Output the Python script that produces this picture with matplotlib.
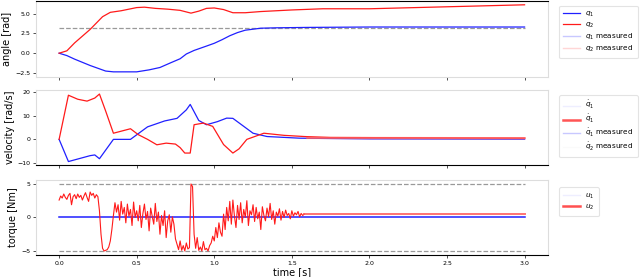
import numpy as np
import matplotlib
matplotlib.use("Agg")
import matplotlib.pyplot as plt

# ---- angle data ----
t_q1 = [0, 0.05, 0.1, 0.2, 0.3, 0.35, 0.5, 0.58, 0.65, 0.72, 0.78, 0.82, 0.87, 0.95, 1.0, 1.05, 1.1, 1.15, 1.2, 1.3, 1.4, 1.6, 2.0, 2.5, 3.0]
q1 = [0, -0.3, -0.75, -1.55, -2.25, -2.35, -2.35, -2.1, -1.8, -1.2, -0.7, -0.1, 0.35, 0.9, 1.25, 1.7, 2.2, 2.6, 2.9, 3.15, 3.2, 3.25, 3.3, 3.3, 3.3]
t_q2 = [0, 0.05, 0.1, 0.2, 0.28, 0.33, 0.4, 0.5, 0.55, 0.62, 0.7, 0.78, 0.85, 0.9, 0.95, 1.0, 1.06, 1.12, 1.2, 1.3, 1.5, 1.7, 2.0, 2.5, 3.0]
q2 = [0, 0.3, 1.3, 3.0, 4.6, 5.15, 5.35, 5.75, 5.8, 5.65, 5.55, 5.4, 5.05, 5.3, 5.65, 5.7, 5.5, 5.1, 5.1, 5.25, 5.45, 5.6, 5.6, 5.85, 6.1]
q_target = 3.14159

# ---- velocity data ----
t_v1 = [0, 0.06, 0.2, 0.23, 0.26, 0.35, 0.46, 0.57, 0.68, 0.76, 0.82, 0.845, 0.9, 0.95, 1.02, 1.08, 1.12, 1.25, 1.34, 1.55, 2.0, 3.0]
v1 = [0, -9.4, -6.9, -6.6, -8.2, 0, 0, 5.3, 7.8, 8.9, 12.5, 14.8, 8.0, 6.2, 7.5, 9.0, 8.9, 2.6, 1.2, 0.5, 0.2, 0.1]
t_v2 = [0, 0.06, 0.12, 0.18, 0.23, 0.26, 0.3, 0.35, 0.46, 0.51, 0.57, 0.63, 0.69, 0.75, 0.78, 0.81, 0.845, 0.87, 0.93, 0.99, 1.06, 1.12, 1.16, 1.21, 1.32, 1.45, 1.58, 1.75, 3.0]
v2 = [0, 18.7, 17.0, 16.2, 17.5, 19.2, 12.0, 2.6, 4.5, 2.0, 0.0, -2.3, -1.6, -2.0, -3.5, -5.8, -5.8, 6.2, 6.9, 5.5, -2.2, -5.8, -4.0, 0.0, 2.6, 1.7, 1.2, 0.8, 0.5]

# ---- torque data (dt = 0.01 s) ----
u2 = [2.6, 3.2, 2.9, 3.5, 3.0, 2.7, 3.3, 3.6, 1.9, 3.1, 3.4, 2.8, 3.5, 3.0, 3.3, 2.6, 3.2, 3.7, 3.0, 2.4, 3.8, 3.3, 3.6, 2.9, 3.4, 3.1,
      1.0, -2.5, -4.6, -5.0, -4.9, -4.8, -4.4, -3.5, -1.8, 0.3, 2.2,
      0.8, 1.9, -0.4, 2.4, 0.5, 1.5, -0.8, 2.0, 0.2, 1.2, -1.2, 2.3, 0.0, 1.0, -0.5, 1.8, -1.5, 0.6, 2.0, -0.3, 0.9, -2.0, 1.4, 0.2, -1.0, 2.1, -0.6, 0.8, -2.5, 0.3, -1.2, 1.0, -3.0, -0.5, 0.4, -2.2, 0.1, -1.0,
      -3.2, -4.0, -4.8, -3.5, -4.9, -4.2, -5.0, -3.8, -4.7, -4.5,
      5.0, 4.6,
      -2.5, -4.6, -3.0, -4.9, -4.4, -5.0, -3.6, -4.8, -4.6, -5.0, -4.2, -3.8,
      -2.8, -3.5, -1.5, -3.0, -0.8, -2.2, -2.8, 0.5, -1.8, 1.5, -0.5, 2.4,
      -1.0, 2.6, 0.2, -1.5, 1.8, -0.3, 2.2, -0.8, 1.2, 0.0, 2.5, -1.2, 1.0, 0.4, 1.9, -0.6, 1.5, -0.2, 0.8, -1.8,
      1.6, 0.3, -0.5, 1.4, 0.1, 2.1, -0.3, 1.0, -1.0, 0.8, 0.2, 1.3, -0.4, 0.9, 0.0, 1.1, 0.3, 0.6, -0.2, 1.0, 0.2, 0.7, 0.4, 0.9, 0.1, 0.6, 0.3, 0.5]
t_u = np.round(np.arange(len(u2)) * 0.01, 2)
t_u_tail = [1.58, 3.0]
u2_tail = [0.5, 0.5]
u_lim = 5.0

BLUE = '#2020ff'
RED = '#ff1a1a'
GRID = '#dddddd'

fig = plt.figure(figsize=(6.4, 2.77), dpi=100)
ax1 = fig.add_axes([0.056, 0.722, 0.80, 0.275])
ax2 = fig.add_axes([0.056, 0.404, 0.80, 0.271])
ax3 = fig.add_axes([0.056, 0.0794, 0.80, 0.271])

for ax in (ax1, ax2, ax3):
    for s in ax.spines.values():
        s.set_color(GRID)
        s.set_linewidth(0.8)
    ax.tick_params(labelsize=4.5, length=2, width=0.6, pad=2, color='#333333')
    ax.set_xlim(-0.15, 3.15)
    ax.set_xticks([0, 0.5, 1.0, 1.5, 2.0, 2.5, 3.0])
ax1.spines['top'].set_color('black')
ax2.spines['bottom'].set_color('black')
ax3.spines['bottom'].set_color('black')
ax1.tick_params(labelbottom=False)
ax2.tick_params(labelbottom=False)

# angle
ax1.plot([0, 3.0], [q_target, q_target], '--', color='#999999', lw=0.9)
ax1.plot(t_q1, q1, color=BLUE, lw=0.9, label='$q_1$')
ax1.plot(t_q2, q2, color=RED, lw=0.9, label='$q_2$')
ax1.plot([], [], color='#c8c8ff', lw=1.0, label='$q_1$ measured')
ax1.plot([], [], color='#ffd6d6', lw=1.0, label='$q_2$ measured')
ax1.set_ylim(-3.0, 6.6)
ax1.set_yticks([-2.5, 0.0, 2.5, 5.0])
ax1.set_yticklabels(['\u22122.5', '0.0', '2.5', '5.0'])
ax1.set_ylabel('angle [rad]', fontsize=7, labelpad=2)

# velocity
ax2.plot(t_v1, v1, color=BLUE, lw=0.9)
ax2.plot(t_v2, v2, color=RED, lw=0.9)
ax2.plot([1.6, 3.0], [0.6, 0.5], color='#ff6060', lw=1.6, alpha=0.8)
ax2.plot([], [], color='#eeeeff', lw=1.0, label='$\\dot{q}_1$')
ax2.plot([], [], color='#ff5555', lw=1.8, label='$\\dot{q}_1$')
ax2.plot([], [], color='#c8c8ff', lw=1.0, label='$\\dot{q}_1$ measured')
ax2.plot([], [], color='#fafafa', lw=1.0, label='$\\dot{q}_2$ measured')
ax2.set_ylim(-10.9, 20.9)
ax2.set_yticks([-10, 0, 10, 20])
ax2.set_yticklabels(['\u221210', '0', '10', '20'])
ax2.set_ylabel('velocity [rad/s]', fontsize=7, labelpad=2)

# torque
ax3.plot([0, 3.0], [u_lim, u_lim], '--', color='#999999', lw=0.9)
ax3.plot([0, 3.0], [-u_lim, -u_lim], '--', color='#999999', lw=0.9)
ax3.plot([0, 3.0], [0, 0], color=BLUE, lw=1.1)
ax3.plot(t_u, u2, color=RED, lw=0.8)
ax3.plot(t_u_tail, u2_tail, color='#ff5050', lw=1.4, alpha=0.8)
ax3.plot([], [], color='#eeeeff', lw=1.0, label='$u_1$')
ax3.plot([], [], color='#ff5050', lw=1.8, label='$u_2$')
ax3.set_ylim(-5.6, 5.6)
ax3.set_yticks([-5, 0, 5])
ax3.set_yticklabels(['\u22125', '0', '5'])
ax3.set_ylabel('torque [Nm]', fontsize=7, labelpad=2)
ax3.set_xlabel('time [s]', fontsize=7, labelpad=1)
ax3.set_xticklabels(['0.0', '0.5', '1.0', '1.5', '2.0', '2.5', '3.0'])

for ax, ypos in ((ax1, 0.985), (ax2, 0.98), (ax3, 0.95)):
    leg = ax.legend(loc='upper left', bbox_to_anchor=(1.015, ypos), fontsize=5.2,
                    frameon=True, handlelength=2.3, borderpad=0.6, labelspacing=0.25,
                    handletextpad=0.7)
    leg.get_frame().set_edgecolor(GRID)
    leg.get_frame().set_linewidth(0.8)

fig.savefig('out.png', dpi=100)
